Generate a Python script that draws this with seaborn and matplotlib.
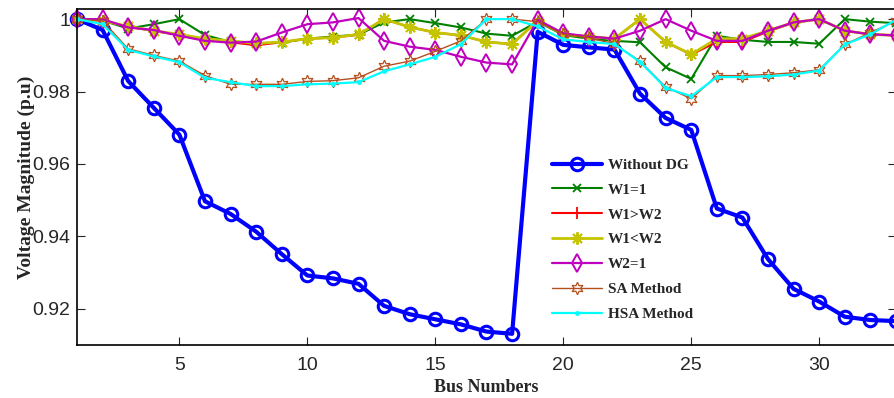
import numpy as np
import pandas as pd
import matplotlib
matplotlib.use("Agg")
import matplotlib.pyplot as plt
import seaborn as sns

buses = list(range(1, 34))

without_dg = [1.0000, 0.9970, 0.9829, 0.9755, 0.9681, 0.9497, 0.9462, 0.9413, 0.9351,
              0.9292, 0.9284, 0.9269, 0.9208, 0.9185, 0.9171, 0.9157, 0.9137, 0.9131,
              0.9965, 0.9929, 0.9922, 0.9916, 0.9794, 0.9727, 0.9694, 0.9477, 0.9452,
              0.9337, 0.9255, 0.9220, 0.9178, 0.9169, 0.9166]
w1_eq_1 = [1.0000, 0.9996, 0.9974, 0.9986, 1.0000, 0.9956, 0.9937, 0.9933, 0.9935,
           0.9946, 0.9952, 0.9957, 0.9991, 1.0000, 0.9989, 0.9977, 0.9960, 0.9954,
           0.9993, 0.9956, 0.9946, 0.9940, 0.9936, 0.9867, 0.9835, 0.9954, 0.9943,
           0.9937, 0.9937, 0.9932, 1.0000, 0.9993, 0.9989]
w1_gt_w2 = [1.0000, 0.9996, 0.9979, 0.9967, 0.9956, 0.9944, 0.9936, 0.9928, 0.9936,
            0.9946, 0.9949, 0.9957, 1.0000, 0.9978, 0.9963, 0.9955, 0.9937, 0.9931,
            0.9996, 0.9958, 0.9952, 0.9946, 1.0000, 0.9937, 0.9902, 0.9937, 0.9937,
            0.9966, 0.9990, 1.0000, 0.9968, 0.9958, 0.9955]
w1_lt_w2 = [1.0000, 0.9996, 0.9980, 0.9968, 0.9958, 0.9946, 0.9940, 0.9933, 0.9937,
            0.9946, 0.9949, 0.9958, 1.0000, 0.9978, 0.9963, 0.9955, 0.9937, 0.9931,
            0.9996, 0.9958, 0.9952, 0.9946, 1.0000, 0.9937, 0.9903, 0.9946, 0.9946,
            0.9968, 0.9991, 1.0000, 0.9968, 0.9958, 0.9955]
w2_eq_1 = [1.0000, 1.0000, 0.9977, 0.9970, 0.9954, 0.9940, 0.9935, 0.9938, 0.9963,
           0.9986, 0.9991, 1.0003, 0.9940, 0.9924, 0.9915, 0.9896, 0.9880, 0.9875,
           0.9998, 0.9961, 0.9952, 0.9946, 0.9968, 1.0000, 0.9968, 0.9940, 0.9940,
           0.9968, 0.9991, 1.0000, 0.9968, 0.9958, 0.9955]
sa_method = [1.0000, 0.9995, 0.9918, 0.9900, 0.9884, 0.9844, 0.9820, 0.9820, 0.9820,
             0.9828, 0.9830, 0.9838, 0.9870, 0.9884, 0.9911, 0.9940, 1.0000, 1.0000,
             0.9993, 0.9958, 0.9949, 0.9931, 0.9884, 0.9813, 0.9780, 0.9844, 0.9844,
             0.9847, 0.9852, 0.9860, 0.9930, 0.9963, 0.9995]
hsa_method = [1.0000, 0.9986, 0.9915, 0.9897, 0.9881, 0.9838, 0.9826, 0.9815, 0.9815,
              0.9820, 0.9822, 0.9826, 0.9856, 0.9875, 0.9896, 0.9931, 1.0000, 1.0000,
              0.9980, 0.9944, 0.9937, 0.9931, 0.9882, 0.9810, 0.9787, 0.9840, 0.9840,
              0.9842, 0.9847, 0.9858, 0.9930, 0.9958, 0.9998]

series_names = ["Without DG", "W1=1", "W1>W2", "W1<W2", "W2=1", "SA Method", "HSA Method"]
series_values = [without_dg, w1_eq_1, w1_gt_w2, w1_lt_w2, w2_eq_1, sa_method, hsa_method]

x_ticks = [5, 10, 15, 20, 25, 30]
y_ticks = [0.92, 0.94, 0.96, 0.98, 1.0]
y_tick_labels = ["0.92", "0.94", "0.96", "0.98", "1"]

sns.set_style("ticks")
plt.rcParams["font.family"] = ["Liberation Sans Narrow", "Liberation Sans", "DejaVu Sans"]

styles = {
    "Without DG": dict(color="#0000ff", marker="o", lw=3.0, ms=9, mew=2.2, mfc="none"),
    "W1=1": dict(color="#008000", marker="x", lw=1.5, ms=6, mew=1.3),
    "W1>W2": dict(color="#ff0000", marker="+", lw=1.5, ms=9, mew=1.3),
    "W1<W2": dict(color="#c4c400", marker=(8, 2, 0), lw=2.0, ms=9, mew=1.4),
    "W2=1": dict(color="#bf00bf", marker="d", lw=1.6, ms=9, mew=1.4, mfc="none"),
    "SA Method": dict(color="#b5501e", marker=(6, 1, 0), lw=1.0, ms=9, mew=0.9, mfc="none"),
    "HSA Method": dict(color="#00ffff", marker=".", lw=1.6, ms=5, mew=1.0),
}

fig = plt.figure(figsize=(8.95, 3.98), dpi=100)
ax = fig.add_axes([77 / 895, 53 / 398, (896 - 77) / 895, (345 - 9) / 398])

for name, vals in zip(series_names, series_values):
    df = pd.DataFrame({"bus": buses, "v": vals})
    st = styles[name]
    sns.lineplot(data=df, x="bus", y="v", ax=ax, label=name, color=st["color"],
                 marker=st["marker"], linewidth=st["lw"], markersize=st["ms"],
                 markeredgewidth=st["mew"], markeredgecolor=st["color"],
                 markerfacecolor=st.get("mfc", st["color"]), clip_on=False)

ax.set_xlim(1, 33)
ax.set_ylim(0.910, 1.0028)
ax.set_xticks(x_ticks)
ax.set_xticklabels([str(t) for t in x_ticks])
ax.set_yticks(y_ticks)
ax.set_yticklabels(y_tick_labels)
ax.tick_params(direction="in", length=6, width=0.8, top=True, right=True, labelsize=14)
ax.tick_params(axis="x", pad=9)
ax.tick_params(axis="y", pad=5)
for sp in ax.spines.values():
    sp.set_linewidth(1.2)
    sp.set_color("black")

ax.set_xlabel("Bus Numbers", family="Liberation Serif", fontweight="bold", fontsize=13,
              labelpad=3)
ax.set_ylabel("Voltage Magnitude (p.u)", family="Liberation Serif", fontweight="bold",
              fontsize=14, labelpad=-2)

leg = ax.legend(loc="upper left", bbox_to_anchor=(0.58, 0.556), frameon=False,
                prop={"family": "Liberation Serif", "weight": "bold", "size": 11},
                handlelength=3.3, handletextpad=0.35, labelspacing=0.73,
                borderaxespad=0, borderpad=0)

fig.savefig("out.png", dpi=100)
